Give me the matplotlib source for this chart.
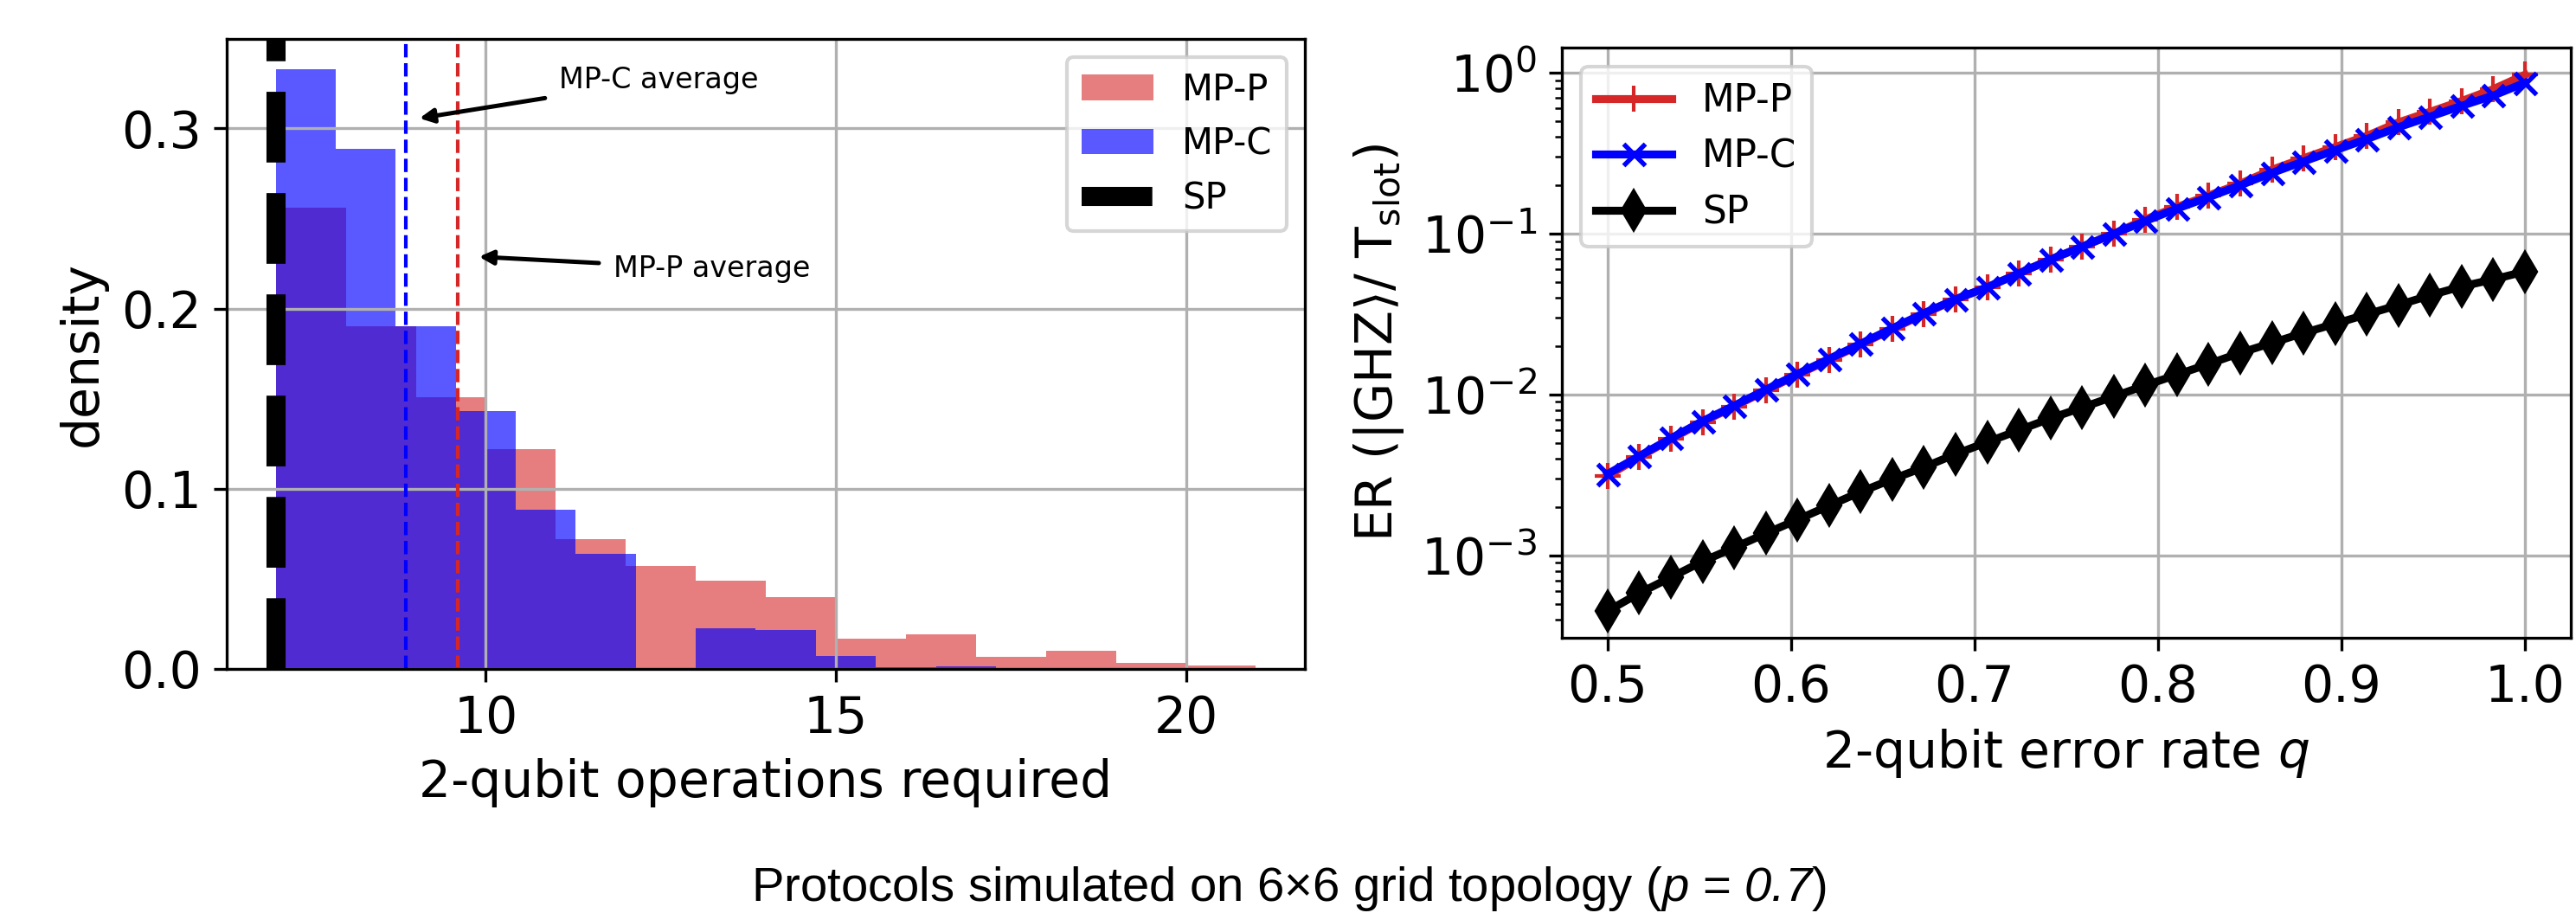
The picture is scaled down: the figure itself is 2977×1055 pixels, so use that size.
import matplotlib
matplotlib.use("Agg")
import matplotlib.pyplot as plt

# histogram data (density per bin)
red_edges = [7, 8, 9, 10, 11, 12, 13, 14, 15, 16, 17, 18, 19, 20, 21]
red_density = [0.256, 0.190, 0.151, 0.122, 0.072, 0.057, 0.049, 0.040,
               0.017, 0.019, 0.0066, 0.0101, 0.0032, 0.0019]
blue_edges = [7.0, 7.857, 8.714, 9.571, 10.429, 11.286, 12.143, 13.0,
              13.857, 14.714, 15.571, 16.429, 17.286, 18.143, 19.0]
blue_density = [0.333, 0.2886, 0.190, 0.1433, 0.0884, 0.064, 0.0, 0.0226,
                0.0217, 0.0073, 0.0008, 0.0014, 0.0, 0.0005]
sp_ops = 7
mp_p_avg = 9.60
mp_c_avg = 8.86

# error rate curves
q = [0.5, 0.5172, 0.5345, 0.5517, 0.569, 0.5862, 0.6034, 0.6207, 0.6379,
     0.6552, 0.6724, 0.6897, 0.7069, 0.7241, 0.7414, 0.7586, 0.7759, 0.7931,
     0.8103, 0.8276, 0.8448, 0.8621, 0.8793, 0.8966, 0.9138, 0.931, 0.9483,
     0.9655, 0.9828, 1.0]
er_mpp = [3.12e-3, 4.09e-3, 5.28e-3, 6.76e-3, 8.43e-3, 1.059e-2, 1.327e-2,
          1.648e-2, 2.046e-2, 2.553e-2, 3.170e-2, 3.917e-2, 4.645e-2, 5.662e-2,
          6.918e-2, 8.299e-2, 0.1000, 0.1227, 0.1466, 0.1726, 0.2046, 0.2500,
          0.2944, 0.3459, 0.4055, 0.4920, 0.5728, 0.6683, 0.7925, 0.9727]
er_mpc = [3.21e-3, 4.14e-3, 5.35e-3, 6.84e-3, 8.53e-3, 1.072e-2, 1.343e-2,
          1.667e-2, 2.070e-2, 2.582e-2, 3.206e-2, 3.917e-2, 4.645e-2, 5.662e-2,
          6.918e-2, 8.299e-2, 0.1000, 0.1199, 0.1432, 0.1687, 0.2000, 0.2388,
          0.2812, 0.3304, 0.3873, 0.4592, 0.5346, 0.6237, 0.7228, 0.8670]
er_sp = [4.51e-4, 5.82e-4, 7.31e-4, 9.18e-4, 1.119e-3, 1.368e-3, 1.667e-3,
         2.037e-3, 2.483e-3, 2.979e-3, 3.532e-3, 4.266e-3, 5.058e-3, 5.998e-3,
         7.112e-3, 8.299e-3, 9.727e-3, 1.140e-2, 1.327e-2, 1.549e-2, 1.816e-2,
         2.094e-2, 2.415e-2, 2.754e-2, 3.155e-2, 3.597e-2, 4.140e-2, 4.699e-2,
         5.200e-2, 5.821e-2]

# italic sans for the caption's math bits
plt.rcParams['mathtext.rm'] = 'Liberation Sans'
plt.rcParams['mathtext.it'] = 'Liberation Sans:italic'
plt.rcParams['mathtext.sf'] = 'Liberation Sans:italic'

fig = plt.figure(figsize=(2978 / 300, 1055 / 300), dpi=300)

# left: histogram
ax1 = fig.add_axes([0.088, 0.2673, 0.4184, 0.690])
ax1.hist(red_edges[:-1], bins=red_edges, weights=red_density,
         color='tab:red', alpha=0.6, label='MP-P')
ax1.hist(blue_edges[:-1], bins=blue_edges, weights=blue_density,
         color='blue', alpha=0.65, label='MP-C')
ax1.axvline(sp_ops, color='black', linestyle='--', linewidth=5.3, label='SP')
ax1.axvline(mp_c_avg, color='blue', linestyle='--', linewidth=1)
ax1.axvline(mp_p_avg, color='tab:red', linestyle='--', linewidth=1)
ax1.annotate('MP-C average', xy=(8.95, 0.305), xytext=(11.05, 0.327),
             fontsize=8, va='center',
             arrowprops=dict(arrowstyle='-|>', color='black', lw=1.2))
ax1.annotate('MP-P average', xy=(9.80, 0.229), xytext=(11.82, 0.222),
             fontsize=8, va='center',
             arrowprops=dict(arrowstyle='-|>', color='black', lw=1.2))
ax1.set_xticks([10, 15, 20])
ax1.set_xlabel('2-qubit operations required', fontsize=14)
ax1.set_ylabel('density', fontsize=14)
ax1.tick_params(labelsize=14)
ax1.grid(True)
ax1.legend(loc='upper right', fontsize=10)

# right: entanglement rate vs q
ax2 = fig.add_axes([0.6061, 0.3014, 0.3915, 0.646])
ax2.plot(q, er_mpp, color='tab:red', marker='+', markersize=7, lw=2.2,
         label='MP-P')
ax2.plot(q, er_mpc, color='blue', marker='x', markersize=6, mew=1.3, lw=2.2,
         label='MP-C')
ax2.plot(q, er_sp, color='black', marker='d', markersize=7.5, lw=2.2,
         label='SP')
ax2.set_yscale('log')
ax2.set_xticks([0.5, 0.6, 0.7, 0.8, 0.9, 1.0])
ax2.set_xlabel('2-qubit error rate $q$', fontsize=14)
ax2.set_ylabel(r'ER ($|\mathrm{GHZ}\rangle$/ T$_{\mathrm{slot}}$)', fontsize=14)
ax2.tick_params(labelsize=14)
ax2.grid(True)
ax2.legend(loc='upper left', fontsize=10.5)

fig.text(0.5, 0.027,
         r'Protocols simulated on 6×6 grid topology ($\mathsf{p}$ = $\mathsf{0.7}$)',
         family='Liberation Sans', fontsize=13.5, ha='center', va='center',
         math_fontfamily='custom')

fig.savefig('out.png', dpi=300)
